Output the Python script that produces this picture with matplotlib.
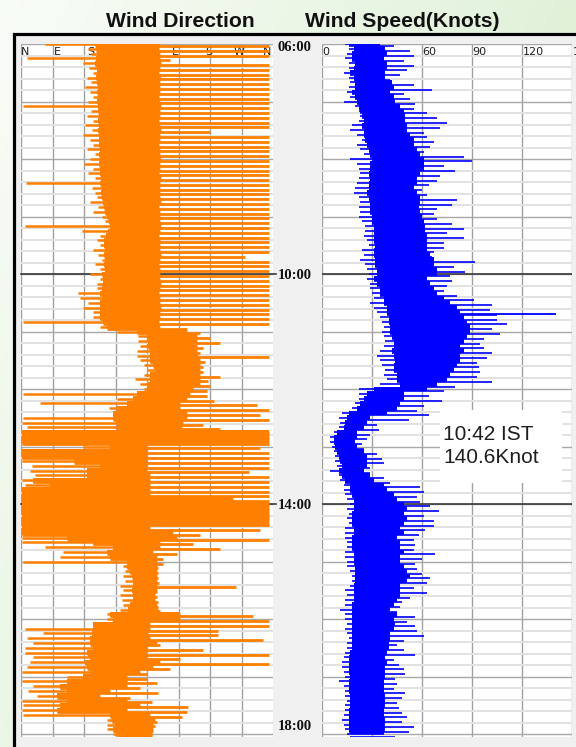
import numpy as np
import matplotlib
matplotlib.use("Agg")
import matplotlib.pyplot as plt
from matplotlib.patches import Rectangle
from matplotlib.transforms import blended_transform_factory

# ---------------------------------------------------------------------------
# Data: one row every 5 minutes from 06:00 to 18:00 (145 rows)
# ---------------------------------------------------------------------------
start_hour = 6.0
step_minutes = 5

# Wind speed (knots): dense core of the trace and the extreme gusts per row
spd_core_lo = [16, 19, 18, 18, 20, 19, 17, 19, 20, 20, 18, 20,
               21, 22, 23, 24, 25, 24, 25, 25, 26, 27, 28, 29,
               30, 29, 29, 28, 29, 28, 28, 27, 28, 29, 29, 29,
               30, 30, 31, 31, 31, 31, 32, 31, 31, 32, 32, 33,
               33, 31, 33, 35, 35, 37, 37, 39, 39, 40, 40, 41,
               41, 42, 43, 43, 42, 43, 44, 43, 43, 45, 45, 47,
               31, 27, 25, 23, 21, 16, 15, 14, 13, 9, 7, 7,
               8, 9, 10, 11, 12, 10, 12, 14, 17, 17, 18, 19,
               19, 19, 18, 18, 18, 19, 19, 18, 18, 18, 19, 19,
               19, 20, 20, 20, 20, 19, 19, 19, 19, 18, 18, 18,
               18, 18, 18, 18, 18, 18, 18, 17, 16, 16, 16, 16,
               17, 16, 16, 16, 17, 17, 17, 16, 16, 16, 16, 16,
               17]
spd_core_hi = [35, 38, 39, 37, 39, 39, 38, 38, 42, 43, 41, 43,
               44, 47, 49, 50, 50, 51, 51, 53, 55, 55, 57, 59,
               61, 61, 61, 59, 57, 57, 55, 57, 59, 59, 58, 59,
               60, 61, 62, 62, 63, 63, 63, 63, 65, 67, 67, 69,
               69, 63, 65, 67, 69, 73, 77, 81, 83, 85, 87, 89,
               89, 87, 85, 83, 85, 83, 83, 81, 79, 77, 75, 69,
               63, 49, 49, 47, 45, 39, 29, 27, 25, 21, 21, 20,
               21, 25, 27, 27, 27, 25, 29, 31, 37, 39, 43, 45,
               49, 51, 49, 51, 49, 47, 49, 45, 47, 47, 49, 47,
               47, 49, 51, 53, 51, 47, 47, 47, 45, 43, 41, 45,
               43, 44, 43, 41, 41, 40, 40, 39, 38, 39, 38, 38,
               38, 37, 37, 37, 38, 38, 38, 37, 37, 38, 38, 38,
               37]
spd_min = [14, 16, 15, 14, 16, 16, 13, 16, 17, 16, 15, 17,
           13, 20, 22, 23, 22, 18, 17, 21, 24, 21, 23, 25,
           17, 21, 22, 23, 22, 21, 20, 19, 22, 23, 22, 23,
           22, 24, 26, 26, 25, 27, 28, 24, 25, 23, 26, 27,
           28, 27, 29, 29, 30, 31, 29, 31, 33, 35, 36, 37,
           36, 37, 38, 37, 35, 33, 35, 36, 38, 37, 39, 35,
           22, 22, 22, 20, 18, 12, 10, 11, 10, 7, 5, 5,
           6, 7, 8, 8, 9, 5, 10, 11, 13, 13, 14, 15,
           17, 15, 16, 15, 16, 14, 14, 14, 15, 15, 14, 14,
           15, 15, 17, 18, 18, 17, 14, 15, 14, 14, 11, 14,
           14, 15, 14, 15, 16, 15, 15, 14, 13, 12, 12, 13,
           14, 10, 13, 14, 14, 15, 14, 14, 13, 12, 13, 14,
           15]
spd_max = [43, 53, 55, 49, 55, 51, 47, 41, 55, 66, 49, 53,
           56, 55, 63, 69, 75, 71, 61, 63, 67, 65, 61, 85,
           90, 73, 80, 71, 69, 64, 60, 63, 81, 78, 69, 67,
           69, 78, 85, 75, 85, 73, 73, 67, 66, 92, 79, 86,
           77, 78, 75, 73, 81, 91, 102, 101, 105, 105, 111, 102,
           107, 97, 95, 97, 102, 99, 93, 94, 95, 93, 102, 80,
           73, 64, 72, 61, 57, 64, 52, 33, 34, 29, 27, 24,
           25, 33, 36, 37, 29, 29, 37, 41, 59, 61, 57, 59,
           65, 70, 61, 67, 67, 62, 58, 55, 56, 55, 68, 60,
           56, 57, 60, 65, 63, 55, 63, 53, 48, 47, 45, 56,
           51, 56, 57, 61, 49, 45, 49, 56, 43, 46, 49, 50,
           44, 45, 43, 50, 48, 45, 46, 48, 51, 48, 55, 52,
           44]

# Peak gust
peak_time = "10:42"
peak_speed = 140.6

# Wind direction (degrees on a 0-720 double-compass scale)
dir_core_lo = [211, 213, 216, 214, 212, 216, 218, 215, 217, 219,
               218, 220, 217, 221, 219, 222, 220, 223, 221, 224, 222,
               223, 225, 222, 226, 224, 227, 225, 228, 226, 230, 228,
               230, 233, 236, 240, 245, 250, 254, 248, 242,
               238, 236, 240, 237, 239, 236, 240,
               230, 235, 235, 230, 226, 230, 226, 226, 226, 226, 235,
               245, 330, 359, 364, 364, 369, 369, 369, 378, 383, 369, 369, 359, 359,
               330, 321, 302, 273, 264, 264, 273, 273,
               2, 2, 2, 254, 2, 2, 150, 226, 188, 188, 35, 83, 2, 2, 2,
               2, 2, 2, 2, 2, 2, 2, 130, 207, 264, 245, 254, 302,
               302, 311, 316, 321, 321, 316, 321, 321, 311, 307,
               254, 264, 207, 207, 202, 197, 197, 207, 188, 197, 183, 188, 197,
               178, 130, 111, 130, 102, 130, 111, 102, 254, 259, 269, 264, 273]
dir_core_hi = [397, 395, 398, 396, 400, 397, 395, 399, 397, 396,
               398, 395, 397, 400, 396, 398, 395, 397, 399, 396, 397,
               395, 398, 397, 400, 396, 397, 395, 399, 397, 398, 396,
               397, 400, 395, 398, 397, 396, 399, 397, 395,
               398, 397, 396, 400, 397, 395, 398,
               397, 396, 399, 397, 395, 398, 397, 400, 396, 397, 395,
               397, 473, 502, 502, 502, 502, 507, 511, 511, 511, 511, 511, 511, 492,
               483, 473, 454, 454, 473, 473, 464, 459,
               708, 708, 708, 359, 359, 359, 359, 359, 359, 369, 369, 369, 369, 369, 607,
               708, 708, 708, 708, 708, 369, 435, 445, 397, 397, 378, 388, 388,
               388, 388, 388, 388, 388, 388, 383, 383, 388, 392,
               454, 454, 369, 369, 364, 369, 388, 359, 359, 359, 397, 378, 340,
               302, 302, 302, 254, 226, 302, 340, 302, 369, 383, 378, 378, 373]
dir_min = [69, 190, 200, 16, 178, 195, 205, 188, 200, 183,
           197, 205, 190, 5, 200, 188, 207, 183, 202, 178, 197,
           205, 188, 212, 197, 180, 207, 192, 210, 14, 202, 212,
           216, 197, 221, 207, 230, 240, 11, 173, 226,
           216, 226, 207, 221, 230, 212, 226,
           197, 226, 216, 216, 164, 169, 192, 178, 207, 207, 7,
           226, 273, 335, 335, 340, 330, 330, 340, 350, 359, 350, 325, 340, 350,
           7, 273, 54, 250, 264, 7, 2, 16,
           2, 2, 2, 178, 2, 2, 2, 30, 25, 40, 2, 10, 2, 2, 2,
           2, 2, 2, 2, 2, 2, 2, 2, 2, 69, 121, 111, 7,
           292, 297, 292, 297, 283, 292, 283, 288, 292, 283,
           245, 245, 207, 11, 64, 16, 35, 11, 11, 35, 26, 16, 2,
           130, 2, 35, 21, 45, 2, 7, 2, 7, 245, 245, 245, 264]
dir_max = [708, 708, 708, 425, 708, 708, 708, 708, 708, 708,
           708, 708, 708, 708, 708, 708, 708, 708, 540, 708, 708,
           708, 708, 708, 708, 708, 708, 708, 708, 708, 708, 708,
           708, 708, 708, 708, 708, 708, 708, 708, 708,
           708, 708, 708, 640, 708, 708, 708,
           708, 708, 708, 708, 708, 708, 708, 708, 708, 708, 708,
           473, 511, 540, 569, 521, 511, 708, 526, 521, 521, 569, 535, 540, 530,
           530, 550, 673, 708, 683, 708, 521, 569,
           708, 708, 708, 683, 708, 708, 708, 708, 650, 708, 708, 708, 708, 708, 708,
           708, 708, 708, 708, 708, 683, 511, 708, 492, 569, 445, 407, 407,
           392, 392, 392, 395, 613, 388, 388, 392, 392, 397,
           664, 708, 708, 562, 562, 692, 397, 521, 708, 454, 708, 425, 359,
           359, 388, 340, 392, 311, 373, 478, 473, 459, 388, 383, 378, 373]

dir_names = ["N", "E", "S", "W", "N", "E", "S", "W", "N"]
spd_ticks = [0, 30, 60, 90, 120, 150]
time_labels = ["06:00", "10:00", "14:00", "18:00"]

# ---------------------------------------------------------------------------
# Figure layout (pixel based)
# ---------------------------------------------------------------------------
W, H, DPI = 576, 747, 100
fig = plt.figure(figsize=(W / DPI, H / DPI), dpi=DPI)


def fx(px):
    return px / W


def fy(py):
    return 1 - py / H


ORANGE = "#ff8000"
BLUE = "#0000ff"

# soft green page background
bg = fig.add_axes([0, 0, 1, 1], zorder=-10)
yy, xx = np.mgrid[0:H:3, 0:W:3]
f = np.clip(0.15 + 0.6 * xx / W + 0.35 * yy / H, 0, 1)[..., None]
light = np.array([1.0, 1.0, 1.0])
green = np.array([0.84, 0.93, 0.80])
bg.imshow(light * (1 - f) + green * f, extent=[0, 1, 0, 1], aspect="auto",
          origin="upper", interpolation="bilinear")
bg.axis("off")

# grey chart frame with a heavy black border
fig.add_artist(Rectangle((fx(13.5), fy(800)), 1.0, (800 - 34.5) / H,
                         transform=fig.transFigure, facecolor="#f0f0f0",
                         edgecolor="black", linewidth=2.3, zorder=-5))

# titles
title_kw = dict(ha="center", va="baseline", fontsize=15.2, fontweight="bold",
                family="Liberation Sans", color="#111111")
fig.text(fx(180), fy(27), "Wind Direction", **title_kw)
fig.text(fx(402), fy(27), "Wind Speed(Knots)", **title_kw)

t_end = 18.05
ax_dir = fig.add_axes([fx(21), fy(737), fx(273) - fx(21), (737 - 44) / H])
ax_spd = fig.add_axes([fx(322), fy(737), fx(572) - fx(322), (737 - 44) / H])

for ax in (ax_dir, ax_spd):
    ax.set_facecolor("white")
    ax.set_ylim(t_end, start_hour)
    ax.set_yticks(np.arange(6, 18.01, 1.0))
    ax.set_yticks(np.arange(6, 18.01, 0.2), minor=True)
    ax.grid(which="minor", axis="y", color="#e2e2e2", lw=1.4)
    ax.grid(which="major", axis="y", color="#a8a8a8", lw=1.0)
    ax.grid(which="major", axis="x", color="#a0a0a0", lw=1.0)
    ax.tick_params(which="both", length=0, labelleft=False, labelbottom=False)
    for s in ax.spines.values():
        s.set_visible(False)
    ax.set_axisbelow(True)

ax_dir.set_xlim(0, 720)
ax_dir.set_xticks(np.arange(0, 631, 90))
ax_spd.set_xlim(0, 150)
ax_spd.set_xticks(spd_ticks)

# darker 4-hour lines
for h in (10, 14):
    ax_dir.axhline(h, xmin=0, xmax=1.012, color="#3a3a3a", lw=1.2, zorder=1.2,
                   clip_on=False)
    ax_spd.axhline(h, color="#3a3a3a", lw=1.2, zorder=1.2)

# axis captions along the top of each panel (beneath the traces)
narrow = ["Liberation Sans Narrow", "DejaVu Sans"]
name_pos = [13, 104, 199, 288, 376, 441, 536, 624, 704]
for name, p in zip(dir_names, name_pos):
    ax_dir.text(p, 6.05, name, ha="center", va="top", fontsize=8,
                family=narrow, color="#202020", zorder=1.5)
for v in spd_ticks:
    ax_spd.text(v + 0.4, 6.05, str(v), ha="left", va="top", fontsize=8,
                family=narrow, color="#202020", zorder=1.5, clip_on=False)

# traces: the solid body of each trace plus one gust stroke per row;
# gusts to the low side and to the high side sit on alternate half-rows
t = start_hour + np.arange(len(spd_core_lo)) * step_minutes / 60.0
half = step_minutes / 120.0

ax_dir.fill_betweenx(t, dir_core_lo, dir_core_hi, step="mid", color=ORANGE,
                     lw=0, zorder=2)
ax_dir.hlines(t, dir_min, dir_core_hi, color=ORANGE, lw=1.8, zorder=2)
ax_dir.hlines(t + half * 0.8, dir_core_lo, dir_max, color=ORANGE, lw=2.0,
              zorder=2)

ax_spd.fill_betweenx(t, spd_core_lo, spd_core_hi, step="mid", color=BLUE,
                     lw=0, zorder=2)
ax_spd.hlines(t, spd_min, spd_core_hi, color=BLUE, lw=1.2, zorder=2)
ax_spd.hlines(t + half, spd_core_lo, spd_max, color=BLUE, lw=1.2, zorder=2)

hh, mm = (int(s) for s in peak_time.split(":"))
peak_hr = hh + mm / 60.0
row = int(round((peak_hr - start_hour) * 60 / step_minutes))
ax_spd.hlines(peak_hr, spd_core_lo[row], peak_speed, color=BLUE, lw=1.3, zorder=2)

# peak annotation box
ax_spd.add_patch(Rectangle((70.8, 12.365), 73.2, 1.27, facecolor="white",
                           edgecolor="none", zorder=3))
note_kw = dict(ha="left", va="baseline", fontsize=15, family="Liberation Sans",
               color="#1e1e1e", zorder=4)
ax_spd.text(72.6, 12.887, f"{peak_time} IST", **note_kw)
ax_spd.text(72.6, 13.287, f"{peak_speed}Knot", **note_kw)

# time labels in the strip between the panels
tr = blended_transform_factory(fig.transFigure, ax_dir.transData)
for lab, yv in zip(time_labels, [6.06, 10.02, 14.02, 17.86]):
    fig.text(fx(294.5), yv, lab, transform=tr, ha="center", va="center",
             fontsize=10.5, fontweight="bold", family="Liberation Serif",
             color="#111111")

fig.savefig("out.png", dpi=DPI)
